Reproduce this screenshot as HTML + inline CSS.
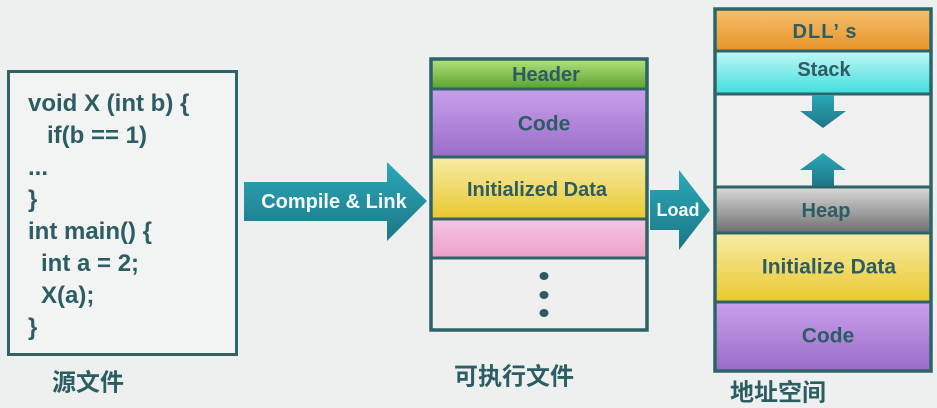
<!DOCTYPE html>
<html><head><meta charset="utf-8"><style>
html,body{margin:0;padding:0;background:#eef0ef;}
svg{display:block;}
text{font-family:"Liberation Sans","Noto Sans CJK SC",sans-serif;font-weight:bold;}
</style></head><body>
<svg width="937" height="408" viewBox="0 0 937 408" xmlns="http://www.w3.org/2000/svg">
<defs>
<linearGradient id="gG" x1="0" y1="0" x2="0" y2="1"><stop offset="0" stop-color="#b4e27e"/><stop offset="1" stop-color="#5ca22c"/></linearGradient>
<linearGradient id="gP" x1="0" y1="0" x2="0" y2="1"><stop offset="0" stop-color="#c9a0ec"/><stop offset="1" stop-color="#9a6cc8"/></linearGradient>
<linearGradient id="gY" x1="0" y1="0" x2="0" y2="1"><stop offset="0" stop-color="#f7eca6"/><stop offset="1" stop-color="#e9c82e"/></linearGradient>
<linearGradient id="gK" x1="0" y1="0" x2="0" y2="1"><stop offset="0" stop-color="#f4c6e2"/><stop offset="1" stop-color="#eda0c8"/></linearGradient>
<linearGradient id="gO" x1="0" y1="0" x2="0" y2="1"><stop offset="0" stop-color="#f7c06c"/><stop offset="1" stop-color="#e6932a"/></linearGradient>
<linearGradient id="gC" x1="0" y1="0" x2="0" y2="1"><stop offset="0" stop-color="#c2f6f6"/><stop offset="1" stop-color="#40dede"/></linearGradient>
<linearGradient id="gH" x1="0" y1="0" x2="0" y2="1"><stop offset="0" stop-color="#dadada"/><stop offset="1" stop-color="#6e6e6e"/></linearGradient>
<linearGradient id="gA" x1="0" y1="0" x2="0" y2="1"><stop offset="0" stop-color="#2aa9b8"/><stop offset="1" stop-color="#1d7686"/></linearGradient>
</defs>

<!-- Source box -->
<rect x="8.5" y="71.5" width="228" height="283" fill="#f2f3f3" stroke="#2e6468" stroke-width="3"/>
<g fill="#2c5d63" font-size="24">
<text x="28" y="111">void X (int b) {</text>
<text x="47" y="143">if(b == 1)</text>
<text x="28" y="175">...</text>
<text x="28" y="207">}</text>
<text x="28" y="239">int main() {</text>
<text x="41" y="271">int a = 2;</text>
<text x="41" y="303">X(a);</text>
<text x="28" y="335">}</text>
</g>
<text x="88" y="383" font-size="24" fill="#2c5d63" text-anchor="middle" dominant-baseline="central">源文件</text>

<!-- Compile arrow -->
<polygon points="244,182 387,182 387,162 427,201 387,241 387,221 244,221" fill="url(#gA)"/>
<text x="334" y="202" font-size="20" fill="#f4fbfb" text-anchor="middle" dominant-baseline="central">Compile &amp; Link</text>

<!-- Executable -->
<rect x="431" y="59" width="216" height="30" fill="url(#gG)"/>
<rect x="431" y="89" width="216" height="68" fill="url(#gP)"/>
<rect x="431" y="157" width="216" height="62" fill="url(#gY)"/>
<rect x="431" y="219" width="216" height="39" fill="url(#gK)"/>
<rect x="431" y="258" width="216" height="72" fill="#efefef"/>
<g stroke="#2e6468" stroke-width="3">
<line x1="431" y1="89" x2="647" y2="89"/>
<line x1="431" y1="157" x2="647" y2="157"/>
<line x1="431" y1="219" x2="647" y2="219"/>
<line x1="431" y1="258" x2="647" y2="258"/>
</g>
<rect x="431" y="59" width="216" height="271" fill="none" stroke="#2e6468" stroke-width="3.5"/>
<g fill="#2c5d63" text-anchor="middle" dominant-baseline="central">
<text x="546" y="75" font-size="20">Header</text>
<text x="544" y="124" font-size="21">Code</text>
<text x="537" y="190" font-size="20">Initialized Data</text>
</g>
<g fill="#2a5d63">
<ellipse cx="544" cy="276" rx="4.5" ry="4"/>
<ellipse cx="544" cy="295" rx="4.5" ry="4"/>
<ellipse cx="544" cy="313" rx="4.5" ry="4"/>
</g>
<text x="514" y="377" font-size="24" fill="#2c5d63" text-anchor="middle" dominant-baseline="central">可执行文件</text>

<!-- Load arrow -->
<polygon points="650,190 679,190 679,170 710,210 679,250 679,230 650,230" fill="url(#gA)"/>
<text x="678" y="210" font-size="18" fill="#f4fbfb" text-anchor="middle" dominant-baseline="central">Load</text>

<!-- Address space -->
<rect x="715" y="9" width="216" height="42" fill="url(#gO)"/>
<rect x="715" y="51" width="216" height="43" fill="url(#gC)"/>
<rect x="715" y="94" width="216" height="93" fill="#f0f0f0"/>
<rect x="715" y="187" width="216" height="46" fill="url(#gH)"/>
<rect x="715" y="233" width="216" height="69" fill="url(#gY)"/>
<rect x="715" y="302" width="216" height="69" fill="url(#gP)"/>
<g stroke="#2e6468" stroke-width="3">
<line x1="715" y1="51" x2="931" y2="51"/>
<line x1="715" y1="94" x2="931" y2="94"/>
<line x1="715" y1="187" x2="931" y2="187"/>
<line x1="715" y1="233" x2="931" y2="233"/>
<line x1="715" y1="302" x2="931" y2="302"/>
</g>
<rect x="715" y="9" width="216" height="362" fill="none" stroke="#2e6468" stroke-width="3.5"/>
<polygon points="812,95 834,95 834,111 846,111 823,128 800,111 812,111" fill="url(#gA)"/>
<polygon points="823,153 846,170 834,170 834,186 812,186 812,170 800,170" fill="url(#gA)"/>
<g fill="#2c5d63" text-anchor="middle" dominant-baseline="central">
<text x="825" y="32" font-size="20" letter-spacing="1">DLL’ s</text>
<text x="824" y="70" font-size="20">Stack</text>
<text x="826" y="211" font-size="20">Heap</text>
<text x="829" y="267" font-size="21">Initialize Data</text>
<text x="828" y="336" font-size="21">Code</text>
</g>
<text x="778" y="393" font-size="24" fill="#2c5d63" text-anchor="middle" dominant-baseline="central">地址空间</text>
</svg>
</body></html>
